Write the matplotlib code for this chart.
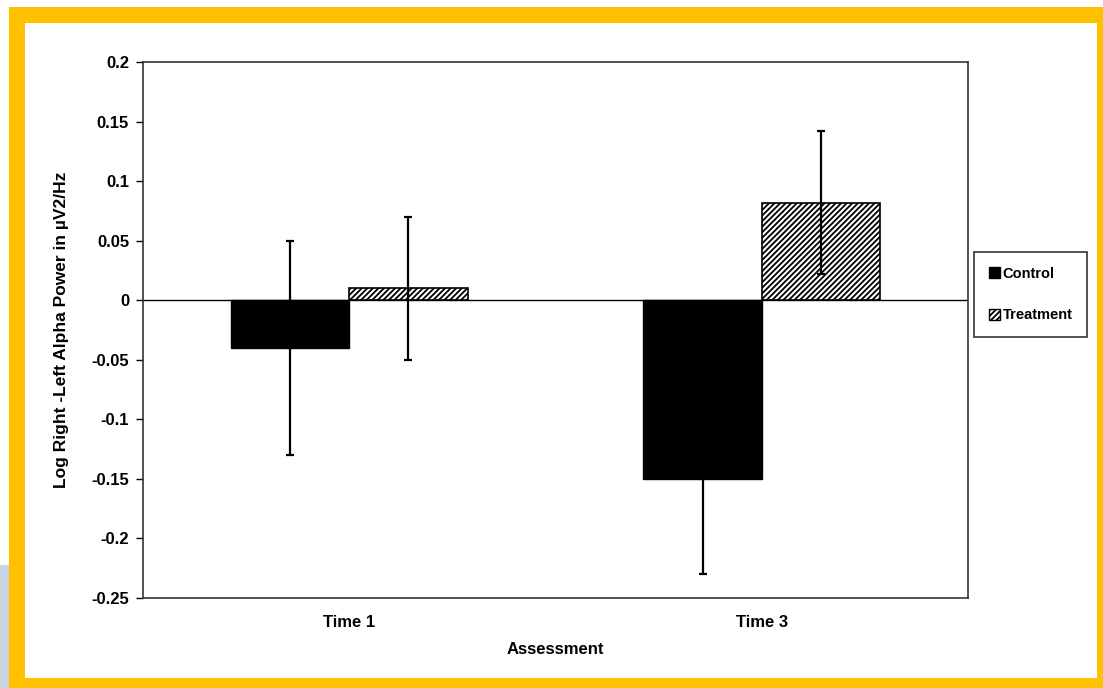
import matplotlib
matplotlib.use('Agg')
import matplotlib.pyplot as plt
from matplotlib.patches import Rectangle, Patch
import numpy as np

# Data
times = ['Time 1', 'Time 3']
control = [-0.04, -0.15]
control_err = [0.09, 0.08]
treatment = [0.01, 0.082]
treatment_err = [0.06, 0.06]
yticks = [0.2, 0.15, 0.1, 0.05, 0, -0.05, -0.1, -0.15, -0.2, -0.25]
ytick_labels = ['0.2', '0.15', '0.1', '0.05', '0', '-0.05', '-0.1', '-0.15', '-0.2', '-0.25']

plt.rcParams['font.family'] = ['Liberation Sans', 'DejaVu Sans']
plt.rcParams['hatch.linewidth'] = 1.3

W, H = 1103, 688
fig = plt.figure(figsize=(W / 100, H / 100), dpi=100)

# Background frame
fig.patches.append(Rectangle((0, 0), 9 / W, (688 - 565) / H, transform=fig.transFigure,
                             facecolor='#c9d5e5', edgecolor='none', zorder=-3))
fig.patches.append(Rectangle((9 / W, 0), 1 - 9 / W, (688 - 7) / H, transform=fig.transFigure,
                             facecolor='#ffc000', edgecolor='none', zorder=-2))
fig.patches.append(Rectangle((25 / W, 10 / H), (1097 - 25) / W, (678 - 23) / H,
                             transform=fig.transFigure, facecolor='white',
                             edgecolor='none', zorder=-1))

ax = fig.add_axes([143 / W, 90 / H, 825 / W, 536 / H])
ax.set_facecolor('none')

x = np.arange(len(times))
width = 0.287
ax.bar(x - width / 2, control, width, color='black', edgecolor='black', linewidth=1,
       label='Control', zorder=2)
ax.bar(x + width / 2, treatment, width, color='white', edgecolor='black', linewidth=1.2,
       hatch='//////', label='Treatment', zorder=2)
ax.errorbar(x - width / 2, control, yerr=control_err, fmt='none', ecolor='black',
            elinewidth=1.6, capsize=3, capthick=1.6, zorder=3)
ax.errorbar(x + width / 2, treatment, yerr=treatment_err, fmt='none', ecolor='black',
            elinewidth=1.6, capsize=3, capthick=1.6, zorder=3)
ax.axhline(0, color='black', linewidth=1, zorder=1)

ax.set_xlim(-0.5, 1.5)
ax.set_ylim(-0.25, 0.2)
ax.set_yticks(yticks)
ax.set_yticklabels(ytick_labels, fontsize=12, fontweight='bold')
ax.set_xticks(x)
ax.set_xticklabels(times, fontsize=12, fontweight='bold')
ax.tick_params(axis='y', direction='out', length=5, width=1, pad=5)
ax.tick_params(axis='x', length=0, pad=12)
for s in ax.spines.values():
    s.set_color('#333333')
    s.set_linewidth(1.2)

ax.set_xlabel('Assessment', fontsize=12, fontweight='bold', labelpad=9)
ax.set_ylabel('Log Right -Left Alpha Power in µV2/Hz', fontsize=12.5, fontweight='bold',
              labelpad=16)

handles = [Patch(facecolor='black', edgecolor='black'),
           Patch(facecolor='white', edgecolor='black', hatch='//////')]
leg = fig.legend(handles, ['Control', 'Treatment'], loc='upper left',
                 bbox_to_anchor=(974 / W, 1 - 252 / H), frameon=True, fancybox=False,
                 prop={'weight': 'bold', 'size': 10.5}, handlelength=0.75,
                 handleheight=0.75, handletextpad=0.2, labelspacing=1.9,
                 borderpad=1.0, borderaxespad=0)
leg.get_frame().set_edgecolor('black')
leg.get_frame().set_linewidth(1.2)

fig.savefig('out.png', dpi=100)
